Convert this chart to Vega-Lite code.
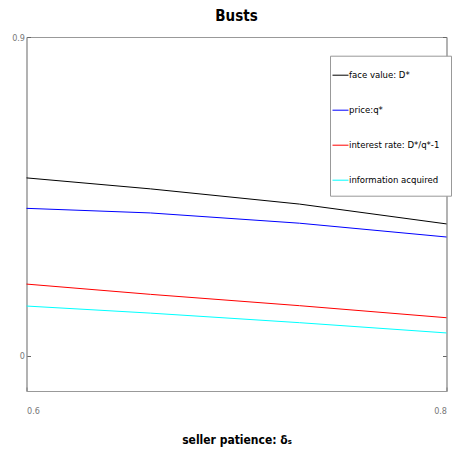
{
  "$schema": "https://vega.github.io/schema/vega-lite/v6.json",
  "width": 420,
  "height": 354,
  "autosize": {"type": "none"},
  "padding": {"left": 26.5, "top": 37, "right": 6.5, "bottom": 80},
  "background": "white",
  "title": {
    "text": "Busts",
    "font": "DejaVu Sans Condensed",
    "fontSize": 15,
    "fontWeight": "bold",
    "anchor": "middle",
    "offset": 9,
    "color": "black"
  },
  "data": {
    "values": [
      {"delta": 0.6, "series": "face value: D*", "v": 0.502},
      {"delta": 0.659, "series": "face value: D*", "v": 0.471},
      {"delta": 0.73, "series": "face value: D*", "v": 0.428},
      {"delta": 0.8, "series": "face value: D*", "v": 0.372},
      {"delta": 0.6, "series": "price:q*", "v": 0.416},
      {"delta": 0.659, "series": "price:q*", "v": 0.403},
      {"delta": 0.73, "series": "price:q*", "v": 0.374},
      {"delta": 0.8, "series": "price:q*", "v": 0.335},
      {"delta": 0.6, "series": "interest rate: D*/q*-1", "v": 0.202},
      {"delta": 0.659, "series": "interest rate: D*/q*-1", "v": 0.173},
      {"delta": 0.73, "series": "interest rate: D*/q*-1", "v": 0.141},
      {"delta": 0.8, "series": "interest rate: D*/q*-1", "v": 0.107},
      {"delta": 0.6, "series": "information acquired", "v": 0.14},
      {"delta": 0.659, "series": "information acquired", "v": 0.12},
      {"delta": 0.73, "series": "information acquired", "v": 0.093},
      {"delta": 0.8, "series": "information acquired", "v": 0.064}
    ]
  },
  "config": {
    "view": {"stroke": "#999", "strokeWidth": 1},
    "axis": {
      "grid": false,
      "domainColor": "#999",
      "tickColor": "#666",
      "labelColor": "#777",
      "labelFont": "DejaVu Sans Condensed",
      "labelFontSize": 9,
      "titleFont": "DejaVu Sans Condensed",
      "titleColor": "black"
    }
  },
  "layer": [
    {
      "mark": {"type": "line", "strokeWidth": 1},
      "encoding": {
        "x": {
          "field": "delta",
          "type": "quantitative",
          "scale": {"domain": [0.6, 0.8], "nice": false, "zero": false},
          "axis": {
            "values": [0.6, 0.8],
            "format": "~g",
            "tickSize": -4,
            "labelPadding": 19,
            "title": "seller patience: δₛ",
            "titleFontSize": 12,
            "titleFontWeight": "bold",
            "titlePadding": 19
          }
        },
        "y": {
          "field": "v",
          "type": "quantitative",
          "scale": {"domain": [-0.1, 0.9], "nice": false, "zero": false},
          "axis": {
            "values": [0, 0.9],
            "format": "~g",
            "tickSize": -4,
            "labelPadding": 6,
            "title": null
          }
        },
        "color": {
          "field": "series",
          "type": "nominal",
          "sort": ["face value: D*", "price:q*", "interest rate: D*/q*-1", "information acquired"],
          "scale": {
            "domain": ["face value: D*", "price:q*", "interest rate: D*/q*-1", "information acquired"],
            "range": ["#000000", "#0000ff", "#ff0000", "#00ffff"]
          },
          "legend": {
            "orient": "none",
            "legendX": 303.5,
            "legendY": 18.7,
            "title": null,
            "strokeColor": "#999",
            "fillColor": "white",
            "padding": 11,
            "symbolType": "stroke",
            "symbolSize": 256,
            "symbolStrokeWidth": 1,
            "symbolOffset": -9,
            "labelOffset": 0,
            "labelFont": "DejaVu Sans Condensed",
            "labelFontSize": 9.5,
            "labelColor": "black",
            "rowPadding": 22
          }
        }
      }
    },
    {
      "mark": {"type": "line", "opacity": 0},
      "encoding": {
        "x": {"field": "delta", "type": "quantitative"},
        "y": {
          "field": "v",
          "type": "quantitative",
          "axis": {
            "orient": "right",
            "values": [0, 0.9],
            "labels": false,
            "tickSize": -4,
            "title": null
          }
        },
        "detail": {"field": "series"}
      }
    }
  ],
  "resolve": {"axis": {"y": "independent"}}
}
